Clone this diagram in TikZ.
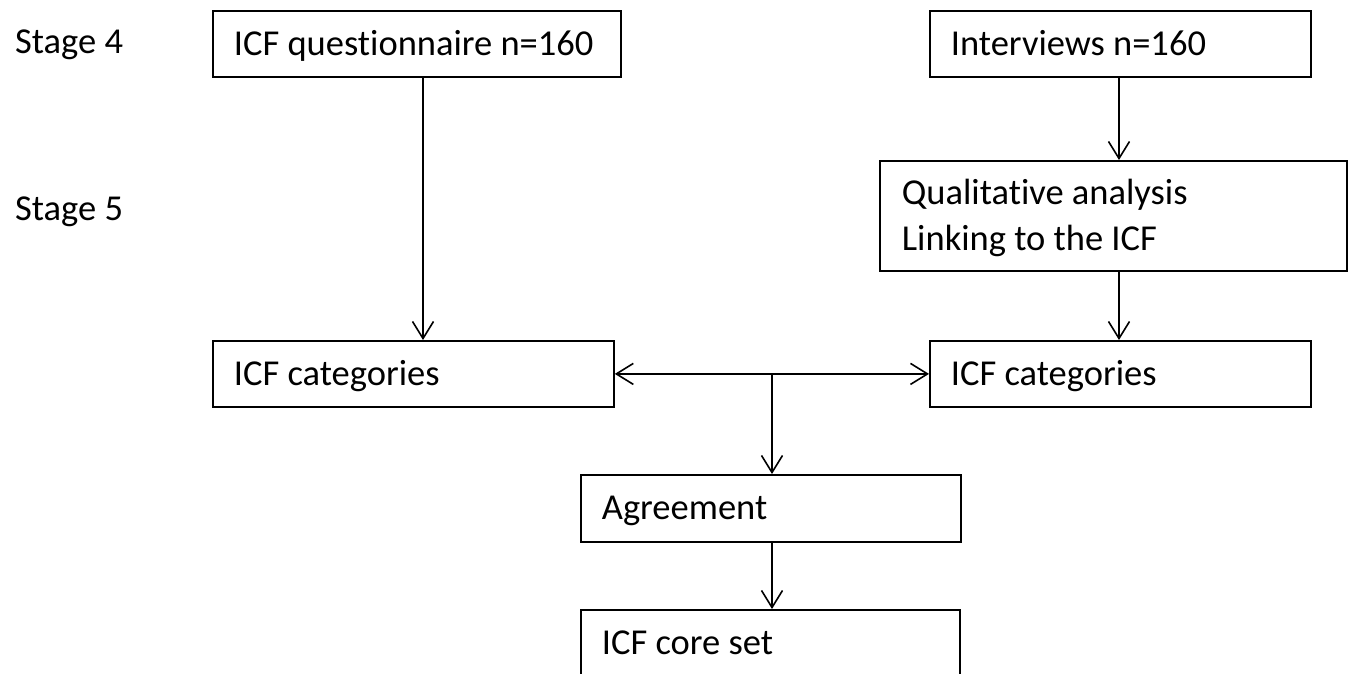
\documentclass[tikz,border=0pt]{standalone}
\usepackage{fontspec}
\setmainfont{Carlito}[Ligatures={NoCommon}]
\usetikzlibrary{arrows.meta}
\begin{document}
\begin{tikzpicture}[x=1pt,y=-1pt,
  every node/.style={font=\fontsize{36.5}{46}\selectfont},
  box/.style={draw, line width=1.8pt, rectangle, anchor=north west, inner xsep=21pt, inner ysep=0pt, align=flush left, text height=23pt, text depth=0pt},
  lbl/.style={anchor=base west, inner sep=0pt},
  arr/.style={line width=1.6pt, -{Straight Barb[length=17pt,width=21pt,line width=1.6pt]}},
  darr/.style={line width=1.6pt, {Straight Barb[length=17pt,width=21pt,line width=1.6pt]}-{Straight Barb[length=17pt,width=21pt,line width=1.6pt]}}]
\useasboundingbox (0,0) rectangle (1348,673);
\clip (0,0) rectangle (1348,673);
\node[lbl] (s4) at (15,53) {Stage 4};
\node[lbl] (s5) at (15,220) {Stage 5};
\node[box, minimum width=408pt, minimum height=66pt, text width=366pt] (q) at (212,10) {\mbox{ICF questionnaire n=160}};
\node[box, minimum width=381pt, minimum height=66pt, text width=339pt] (iv) at (929,10) {\mbox{Interviews n=160}};
\node[box, minimum width=467pt, minimum height=110pt, text width=423pt, text depth=46pt] (qa) at (879,160) {\mbox{Qualitative analysis}\\\mbox{Linking to the ICF}};
\node[box, minimum width=401pt, minimum height=66pt, text width=359pt] (lc) at (212,340) {\mbox{ICF categories}};
\node[box, minimum width=381pt, minimum height=66pt, text width=339pt] (rc) at (929,340) {\mbox{ICF categories}};
\node[box, minimum width=380pt, minimum height=67pt, text width=338pt] (ag) at (580,474) {Agreement};
\node[box, minimum width=379pt, minimum height=66pt, text width=337pt] (cs) at (580,609) {\mbox{ICF core set}};
\coordinate (xa) at (423,0);
\coordinate (xb) at (1119,0);
\coordinate (xc) at (772,0);
\coordinate (j) at (772,373);
\draw[arr] (q.south -| xa) -- (lc.north -| xa);
\draw[arr] (iv.south -| xb) -- (qa.north -| xb);
\draw[arr] (qa.south -| xb) -- (rc.north -| xb);
\draw[darr] (lc.east) -- (rc.west);
\draw[arr] (j) -- (ag.north -| xc);
\draw[arr] (ag.south -| xc) -- (cs.north -| xc);
\end{tikzpicture}
\end{document}
